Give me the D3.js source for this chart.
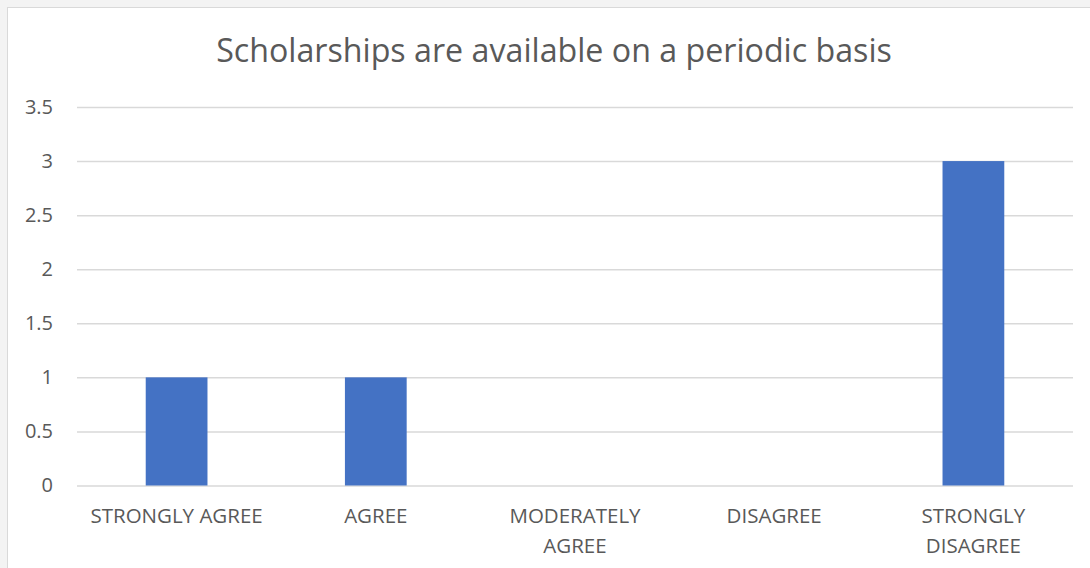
<!DOCTYPE html>
<html lang="en">
<head>
    <meta charset="UTF-8">
    <title>Scholarships are available on a periodic basis</title>
    <script src="https://d3js.org/d3.v7.min.js"></script>
    <style>
        body {
            margin: 0;
            background: #f3f3f3;
            font-family: "Open Sans", Arial, sans-serif;
        }
        svg {
            display: block;
        }
    </style>
</head>
<body>
    <svg id="chart" width="1090" height="568"></svg>

    <script>
        const title = "Scholarships are available on a periodic basis";
        const categories = ["STRONGLY AGREE", "AGREE", "MODERATELY AGREE", "DISAGREE", "STRONGLY DISAGREE"];
        const values = [1, 1, 0, 0, 3];
        const yTicks = [0, 0.5, 1, 1.5, 2, 2.5, 3, 3.5];

        const textColor = "#595959";
        const gridColor = "#d9d9d9";
        const barColor = "#4472c4";

        const svg = d3.select("#chart");
        const width = 1090, height = 568;
        const margin = { top: 107, right: 17, bottom: 82.5, left: 77 };

        // chart area (white box with thin border)
        svg.append("rect")
            .attr("x", 7.5)
            .attr("y", 7.5)
            .attr("width", width)
            .attr("height", height)
            .attr("fill", "#fff")
            .attr("stroke", gridColor);

        const x = d3.scaleBand()
            .domain(categories)
            .range([margin.left, width - margin.right]);

        const y = d3.scaleLinear()
            .domain([0, 3.5])
            .range([height - margin.bottom, margin.top]);

        // title
        svg.append("text")
            .attr("x", 554)
            .attr("y", 62)
            .attr("text-anchor", "middle")
            .attr("fill", textColor)
            .attr("font-size", "32.2px")
            .text(title);

        // gridlines + y labels
        const yAxis = svg.append("g")
            .attr("transform", `translate(${margin.left},0)`)
            .call(d3.axisLeft(y)
                .tickValues(yTicks)
                .tickSize(-(width - margin.left - margin.right))
                .tickPadding(24)
                .tickFormat(d3.format("")));
        yAxis.select(".domain").remove();
        yAxis.selectAll(".tick line")
            .attr("stroke", gridColor)
            .attr("stroke-width", 1.5);
        yAxis.selectAll(".tick text")
            .attr("fill", textColor)
            .attr("font-size", "20px")
            .attr("font-family", "'Open Sans', Arial, sans-serif");

        // bars
        const barW = x.bandwidth() * 0.31;
        svg.selectAll(".bar")
            .data(values)
            .join("rect")
            .attr("class", "bar")
            .attr("x", (d, i) => x(categories[i]) + (x.bandwidth() - barW) / 2)
            .attr("y", d => y(d))
            .attr("width", barW)
            .attr("height", d => y(0) - y(d))
            .attr("fill", barColor);

        // category labels, wrapped to the band width
        const labels = svg.append("g");
        categories.forEach(c => {
            const t = labels.append("text")
                .attr("x", x(c) + x.bandwidth() / 2)
                .attr("y", 523)
                .attr("text-anchor", "middle")
                .attr("fill", textColor)
                .attr("font-size", "20.5px");
            const words = c.split(" ");
            let line = [];
            let tspan = t.append("tspan").attr("x", x(c) + x.bandwidth() / 2).attr("dy", 0);
            words.forEach(w => {
                line.push(w);
                tspan.text(line.join(" "));
                if (tspan.node().getComputedTextLength() > x.bandwidth() * 0.92 && line.length > 1) {
                    line.pop();
                    tspan.text(line.join(" "));
                    line = [w];
                    tspan = t.append("tspan")
                        .attr("x", x(c) + x.bandwidth() / 2)
                        .attr("dy", 29.5)
                        .text(w);
                }
            });
        });
    </script>
</body>
</html>
